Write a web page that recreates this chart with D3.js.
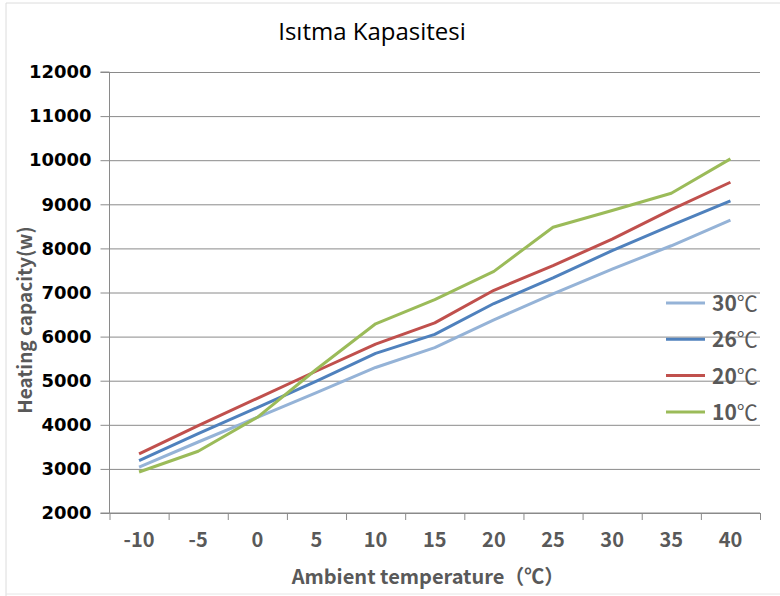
<!DOCTYPE html>
<meta charset="utf-8">
<style>
body{margin:0;background:#fff;}
svg{display:block;}
.ylab text{font-family:"DejaVu Sans";font-weight:bold;font-size:18px;fill:#000;}
.xlab text{font-family:"Noto Sans CJK SC";font-weight:bold;font-size:20px;fill:#595959;}
.grid line{stroke:#8a8a8a;stroke-width:1;}
.grid path{display:none;}
</style>
<body>
<div id="chart"></div>
<script src="https://cdn.jsdelivr.net/npm/d3@7"></script>
<script>
// ambient temperature categories and capacities per water temperature
var temps = ["-10","-5","0","5","10","15","20","25","30","35","40"];
var seriesNames = ["30℃","26℃","20℃","10℃"];
var cap30 = [3040,3610,4170,4730,5300,5750,6380,6970,7530,8060,8640];
var cap26 = [3190,3800,4390,4990,5620,6050,6750,7330,7950,8520,9080];
var cap20 = [3340,3980,4600,5220,5830,6310,7050,7610,8210,8880,9500];
var cap10 = [2930,3400,4170,5260,6290,6840,7480,8480,8860,9250,10030];
var yTicks = [2000,3000,4000,5000,6000,7000,8000,9000,10000,11000,12000];

var colors = ["#95B3D7","#4F81BD","#C0504D","#9BBB59"];
var series = [cap30,cap26,cap20,cap10].map(function(v,i){
	return {name: seriesNames[i], values: v, color: colors[i]};
});

var W = 780, H = 596;
var pLeft = 109.5, pRight = 760, pTop = 72, pBottom = 513;

var svg = d3.select("#chart").append("svg").attr("width",W).attr("height",H);

// faint page frame
svg.append("path").attr("d","M6,596V3H780").attr("fill","none").attr("stroke","#dcdcdc");
svg.append("line").attr("x1",6).attr("x2",780).attr("y1",594).attr("y2",594).attr("stroke","#e6e6e6");

var x = d3.scaleBand().domain(temps).range([pLeft,pRight]);
var xEdge = d3.scaleLinear().domain([0,temps.length]).range([pLeft,pRight]);
var y = d3.scaleLinear().domain([2000,12000]).range([pBottom,pTop]);

// horizontal gridlines
svg.append("g").attr("class","grid")
	.attr("transform","translate("+pLeft+",0)")
	.call(d3.axisLeft(y).tickValues(yTicks).tickSize(-(pRight-pLeft)).tickFormat(""));

// y axis with ticks and labels
var ya = svg.append("g").attr("class","ylab")
	.attr("transform","translate("+pLeft+",0)")
	.call(d3.axisLeft(y).tickValues(yTicks).tickSize(9).tickPadding(9).tickFormat(d3.format("d")));
ya.select(".domain").attr("stroke","#8a8a8a").attr("d","M-9,"+pBottom+"H0V"+pTop+"H-9");
ya.selectAll(".tick line").attr("stroke","#8a8a8a");

// x axis: ticks between categories
var xa = svg.append("g").attr("transform","translate(0,"+pBottom+")")
	.call(d3.axisBottom(xEdge).tickValues(d3.range(temps.length+1)).tickSize(7).tickFormat(""));
xa.select(".domain").attr("stroke","#8a8a8a").attr("d","M"+pLeft+",0H"+pRight);
xa.selectAll(".tick line").attr("stroke","#8a8a8a");

var xl = svg.append("g").attr("class","xlab").attr("transform","translate(0,"+pBottom+")")
	.call(d3.axisBottom(x).tickSize(0).tickPadding(20));
xl.select(".domain").remove();

// lines
var line = d3.line()
	.x(function(d,i){ return x(temps[i]) + x.bandwidth()/2; })
	.y(function(d){ return y(d); });

svg.selectAll(".series").data(series).enter().append("path")
	.attr("class","series")
	.attr("fill","none")
	.attr("stroke",function(d){ return d.color; })
	.attr("stroke-width",3)
	.attr("stroke-linejoin","round")
	.attr("d",function(d){ return line(d.values); });

// legend
var leg = svg.selectAll(".leg").data(series).enter().append("g")
	.attr("class","leg")
	.attr("transform",function(d,i){ return "translate(666,"+(303+36.3*i)+")"; });
leg.append("line").attr("x1",0).attr("x2",39).attr("y1",0).attr("y2",0)
	.attr("stroke",function(d){ return d.color; }).attr("stroke-width",3);
var lt = leg.append("text").attr("x",46).attr("y",8)
	.style("font-family","'Noto Sans CJK SC'").style("font-size","21px").attr("fill","#595959");
lt.append("tspan").style("font-weight","bold").text(function(d){ return d.name.slice(0,2); });
lt.append("tspan").style("font-weight","normal").text(function(d){ return d.name.slice(2); });

// titles
svg.append("text").attr("x",372).attr("y",40).attr("text-anchor","middle")
	.style("font-family","'Open Sans'").style("font-size","24px").attr("fill","#000")
	.text("Isıtma Kapasitesi");

svg.append("text").attr("x",428).attr("y",584).attr("text-anchor","middle")
	.style("font-family","'Noto Sans CJK SC'").style("font-weight","bold").style("font-size","20px")
	.attr("fill","#595959").text("Ambient temperature（℃）");

svg.append("text").attr("transform","translate(32,320) rotate(-90)").attr("text-anchor","middle")
	.style("font-family","'Noto Sans CJK SC'").style("font-weight","bold").style("font-size","19px")
	.attr("fill","#595959").text("Heating capacity(w)");
</script>
</body>
